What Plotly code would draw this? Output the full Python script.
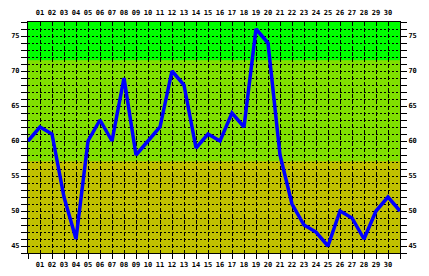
import plotly.graph_objects as go

days = list(range(0, 32))
values = [60, 62, 61, 52, 46, 60, 63, 60, 69, 58, 60, 62, 70, 68, 59, 61,
          60, 64, 62, 76, 74, 58, 51, 48, 47, 45, 50, 49, 46, 50, 52, 50]
day_labels = [""] + ["%02d" % d for d in range(1, 31)] + [""]
y_ticks = list(range(44, 78))
y_labels = [str(v) if v % 5 == 0 else "" for v in y_ticks]
band_low = [44, 57.1, 71.55]
band_high = [57.1, 71.55, 77]
band_colors = ["#C0C000", "#80E000", "#00FF00"]

fig = go.Figure()
fig.add_trace(go.Scatter(x=days, y=values, mode="lines",
                         line=dict(color="#0000FF", width=3.5),
                         showlegend=False, hoverinfo="skip"))
# invisible trace to activate secondary axes
fig.add_trace(go.Scatter(x=[0], y=[60], xaxis="x2", yaxis="y2", mode="markers",
                         marker=dict(opacity=0), showlegend=False, hoverinfo="skip"))

for lo, hi, c in zip(band_low, band_high, band_colors):
    fig.add_shape(type="rect", xref="paper", yref="y", x0=0, x1=1, y0=lo, y1=hi,
                  fillcolor=c, line=dict(width=0), layer="below")

font = dict(family="DejaVu Sans Mono", size=7, color="#000000", weight="bold")

fig.update_layout(
    width=429, height=276,
    margin=dict(l=28, r=29, t=22, b=23, autoexpand=False),
    paper_bgcolor="white", plot_bgcolor="#C0C000",
    font=font,
    xaxis=dict(range=[0, 31], tickvals=days, ticktext=day_labels, automargin=False,
               ticks="outside", ticklen=5, tickcolor="black", tickwidth=1,
               showgrid=True, gridcolor="black", gridwidth=1, griddash="4px,2px",
               showline=True, linecolor="black", linewidth=1, mirror=True,
               zeroline=False, tickfont=font, tickangle=0),
    xaxis2=dict(range=[0, 31], tickvals=days, ticktext=day_labels, automargin=False,
                overlaying="x", side="top", ticks="", showgrid=False,
                zeroline=False, tickfont=font, tickangle=0, showline=False,
                ticklabelstandoff=5),
    yaxis=dict(range=[44, 77], tickvals=y_ticks, ticktext=y_labels, automargin=False,
               ticks="outside", ticklen=6, tickcolor="black", tickwidth=1,
               showgrid=True, gridcolor="black", gridwidth=1, griddash="2px,2px",
               showline=True, linecolor="black", linewidth=1, mirror=True,
               zeroline=False, tickfont=font),
    yaxis2=dict(range=[44, 77], tickvals=y_ticks, ticktext=y_labels, automargin=False,
                overlaying="y", side="right", ticks="outside", ticklen=6,
                tickcolor="black", tickwidth=1, showgrid=False, zeroline=False,
                tickfont=font, showline=False),
)

fig.write_html("out.html")
